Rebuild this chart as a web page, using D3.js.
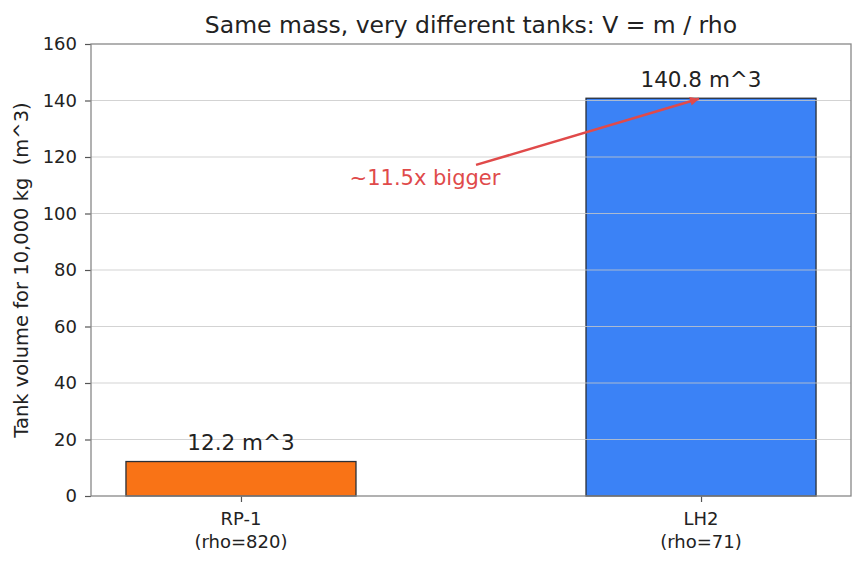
<!DOCTYPE html>
<html>
<head>
<meta charset="utf-8">
<script src="https://cdn.jsdelivr.net/npm/d3@7"></script>
<style>
  body { margin: 0; background: #fff; }
  text { font-family: "DejaVu Sans", sans-serif; fill: #222; }
</style>
</head>
<body>
<div id="chart"></div>
<script>
const fuels = ["RP-1", "LH2"];
const densities = ["rho=820", "rho=71"];
const volumes = [12.2, 140.8];
const barLabels = ["12.2 m^3", "140.8 m^3"];
const yTicks = [0, 20, 40, 60, 80, 100, 120, 140, 160];
const barColors = ["#f97316", "#3b82f6"];
const annotation = { text: "~11.5x bigger", tx: 0.4, ty: 110, sx: 0.511, sy: 117.2, ax: 1, ay: 140.8 };

const width = 864, height = 565;
const margin = { top: 44, right: 13, bottom: 69, left: 91 };
const innerWidth = width - margin.left - margin.right;
const innerHeight = height - margin.top - margin.bottom;

const svg = d3.select("#chart")
    .append("svg")
    .attr("width", width)
    .attr("height", height);

const inner = svg.append("g")
    .attr("transform", `translate(${margin.left}, ${margin.top})`);

// bar positions 0 and 1, xlim about -0.326..1.326
const xScale = d3.scaleLinear()
    .domain([-0.326, 1.326])
    .range([0, innerWidth]);

const yScale = d3.scaleLinear()
    .domain([0, 160])
    .range([innerHeight, 0]);

const barW = 0.5;

inner.selectAll("rect.bar")
    .data(volumes)
    .join("rect")
    .attr("class", "bar")
    .attr("x", (d, i) => xScale(i - barW / 2))
    .attr("width", xScale(barW) - xScale(0))
    .attr("y", d => yScale(d))
    .attr("height", d => yScale(0) - yScale(d))
    .attr("fill", (d, i) => barColors[i])
    .attr("stroke", "#2a2f38")
    .attr("stroke-width", 1.3);

// grid drawn over the bars, like the original
inner.append("g")
    .attr("class", "grid")
    .selectAll("line")
    .data(yTicks.slice(1, -1))
    .join("line")
    .attr("x1", 0)
    .attr("x2", innerWidth)
    .attr("y1", d => yScale(d))
    .attr("y2", d => yScale(d))
    .attr("stroke", "#c8c8c8")
    .attr("stroke-opacity", 0.8)
    .attr("stroke-width", 1);

// value labels
inner.selectAll("text.val")
    .data(volumes)
    .join("text")
    .attr("class", "val")
    .attr("x", (d, i) => xScale(i))
    .attr("y", d => yScale(d) - 11.5)
    .attr("text-anchor", "middle")
    .attr("font-size", 21.5)
    .text((d, i) => barLabels[i]);

// axes
const leftAxis = d3.axisLeft(yScale)
    .tickValues(yTicks)
    .tickSize(6)
    .tickPadding(8);

const yAxis = inner.append("g").call(leftAxis);
yAxis.attr("font-size", null).attr("font-family", null);
yAxis.select(".domain").remove();
yAxis.selectAll(".tick line").attr("stroke", "#555").attr("stroke-width", 1.2);
yAxis.selectAll(".tick text").attr("font-size", 18).attr("fill", "#222");

const bottomAxis = d3.axisBottom(xScale)
    .tickValues([0, 1])
    .tickSize(6)
    .tickFormat("");

const xAxis = inner.append("g")
    .attr("transform", `translate(0, ${innerHeight})`)
    .call(bottomAxis);
xAxis.select(".domain").remove();
xAxis.selectAll(".tick line").attr("stroke", "#555").attr("stroke-width", 1.2);

const xLab = inner.selectAll("text.xlab")
    .data(fuels)
    .join("text")
    .attr("class", "xlab")
    .attr("text-anchor", "middle")
    .attr("font-size", 18)
    .attr("y", innerHeight + 29);
xLab.append("tspan")
    .attr("x", (d, i) => xScale(i))
    .text(d => d);
xLab.append("tspan")
    .attr("x", (d, i) => xScale(i))
    .attr("dy", 23)
    .text((d, i) => `(${densities[i]})`);

// frame
inner.append("rect")
    .attr("width", innerWidth)
    .attr("height", innerHeight)
    .attr("fill", "none")
    .attr("stroke", "#888")
    .attr("stroke-width", 1.3);

// annotation arrow (filled head)
const red = "#e04a4a";
const defs = svg.append("defs");
defs.append("marker")
    .attr("id", "arrow")
    .attr("viewBox", "0 0 10 10")
    .attr("refX", 10)
    .attr("refY", 5)
    .attr("markerWidth", 12)
    .attr("markerHeight", 9)
    .attr("markerUnits", "userSpaceOnUse")
    .attr("orient", "auto")
    .append("path")
    .attr("d", "M0,0 L10,5 L0,10 Z")
    .attr("fill", red);

inner.append("line")
    .attr("x1", xScale(annotation.sx))
    .attr("y1", yScale(annotation.sy))
    .attr("x2", xScale(annotation.ax) - 2)
    .attr("y2", yScale(annotation.ay) + 0.5)
    .attr("stroke", red)
    .attr("stroke-width", 2.5)
    .attr("marker-end", "url(#arrow)");

inner.append("text")
    .attr("x", xScale(annotation.tx))
    .attr("y", yScale(annotation.ty))
    .attr("text-anchor", "middle")
    .attr("font-size", 21)
    .style("fill", red)
    .text(annotation.text);

// title and y label
svg.append("text")
    .attr("x", margin.left + innerWidth / 2)
    .attr("y", 33)
    .attr("text-anchor", "middle")
    .attr("font-size", 23.5)
    .text("Same mass, very different tanks: V = m / rho");

svg.append("text")
    .attr("transform", `translate(28, ${margin.top + innerHeight / 2}) rotate(-90)`)
    .attr("text-anchor", "middle")
    .attr("font-size", 19.5)
    .style("white-space", "pre")
    .text("Tank volume for 10,000 kg  (m^3)");
</script>
</body>
</html>
